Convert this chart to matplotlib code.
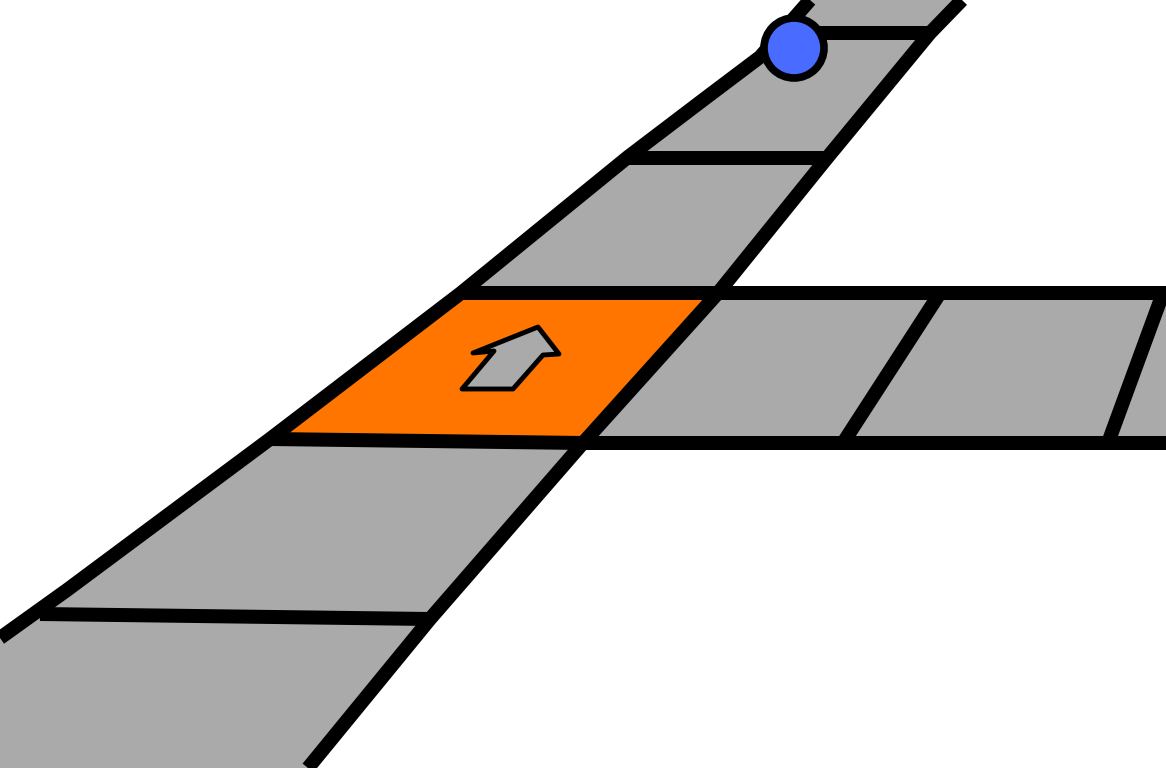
import matplotlib.pyplot as plt
from matplotlib.patches import Polygon, Circle

W, H = 1166, 768

# edges of the diagonal track (pixel coords, y down)
left_edge = [(0, 638), (67, 590), (270, 439), (461, 293), (628, 157), (703, 100), (760, 57), (810, 0)]
right_edge = [(308, 768), (430, 619), (583, 443), (718, 293), (827, 158), (930, 33), (962, 0)]

# horizontal track going right
side_track = [(583, 443), (718, 293), (1166, 293), (1166, 443)]

# highlighted square
orange_tile = [(461, 293), (718, 293), (583, 443), (270, 439)]

# cross lines
cross_lines = [
    [(40, 614), (430, 619)],
    [(270, 439), (583, 443), (1166, 443)],
    [(461, 293), (1166, 293)],
    [(628, 158), (827, 158)],
    [(790, 33), (930, 33)],
    [(940, 293), (843, 443)],
    [(1163, 293), (1108, 443)],
]

arrow = [(538, 327), (559, 354), (543, 355), (513, 389), (462, 389), (494, 351), (473, 353)]

marker_xy = (794, 48)
marker_r = 30

GRAY = '#aaaaaa'
ORANGE = '#ff7500'
BLUE = '#4a6bff'
LW = 14 * 72 / 100

fig = plt.figure(figsize=(W / 100, H / 100), dpi=100)
fig.patch.set_facecolor('white')
ax = fig.add_axes([0, 0, 1, 1])
ax.set_xlim(0, W)
ax.set_ylim(H, 0)
ax.axis('off')

track = [(0, H)] + left_edge + right_edge[::-1]
ax.add_patch(Polygon(track, closed=True, facecolor=GRAY, edgecolor='none', zorder=1))
ax.add_patch(Polygon(side_track, closed=True, facecolor=GRAY, edgecolor='none', zorder=1))
ax.add_patch(Polygon(orange_tile, closed=True, facecolor=ORANGE, edgecolor='none', zorder=2))

for pts in [left_edge, right_edge] + cross_lines:
    xs = [p[0] for p in pts]
    ys = [p[1] for p in pts]
    ax.plot(xs, ys, color='black', lw=LW, solid_capstyle='butt', solid_joinstyle='round', zorder=3)

ax.add_patch(Polygon(arrow, closed=True, facecolor=GRAY, edgecolor='black', lw=3.5, joinstyle='round', zorder=4))
ax.add_patch(Circle(marker_xy, marker_r, facecolor=BLUE, edgecolor='black', lw=5.5, zorder=5))

fig.savefig('out.png', dpi=100, facecolor='white')
